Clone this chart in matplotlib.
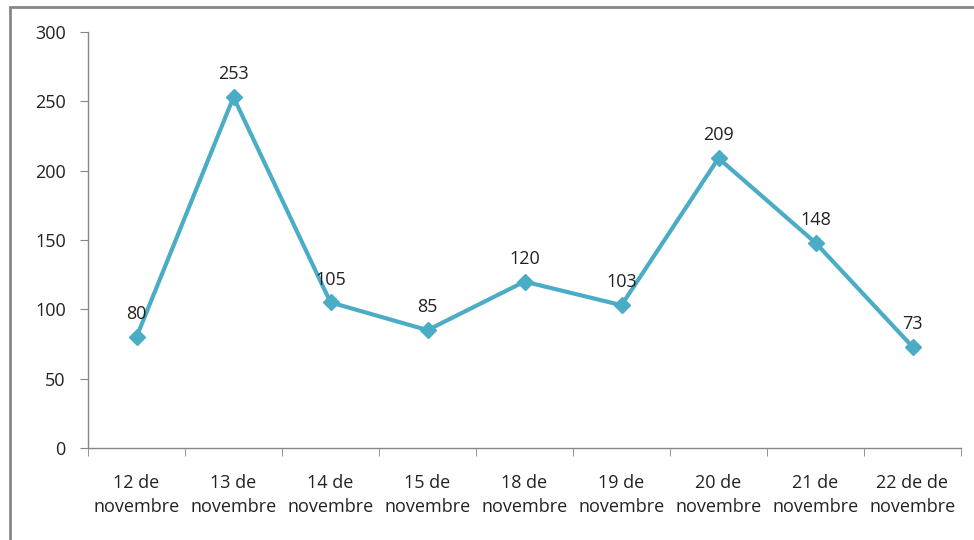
import numpy as np
import matplotlib.pyplot as plt
from matplotlib.patches import Rectangle

# data
dates = ["12 de\nnovembre", "13 de\nnovembre", "14 de\nnovembre", "15 de\nnovembre",
         "18 de\nnovembre", "19 de\nnovembre", "20 de\nnovembre", "21 de\nnovembre",
         "22 de de\nnovembre"]
values = [80, 253, 105, 85, 120, 103, 209, 148, 73]
yticks = [0, 50, 100, 150, 200, 250, 300]

line_color = "#4BACC6"
axis_color = "#868686"

plt.rcParams['font.family'] = ['Open Sans', 'DejaVu Sans']

W, H = 974, 540
fig = plt.figure(figsize=(W / 100, H / 100), dpi=100)

# frame around the chart
fig.patches.append(Rectangle((10 / W, -0.05), 1.0, 1 - 7 / H + 0.05, transform=fig.transFigure,
                             fill=False, edgecolor=axis_color, linewidth=2))

ax = fig.add_axes([88 / W, 1 - 448 / H, (961 - 88) / W, (448 - 32) / H])

x = np.arange(len(values))
ax.plot(x, values, color=line_color, linewidth=3, marker="D", markersize=8,
        markeredgecolor=line_color, markerfacecolor=line_color, zorder=3)

for xi, v in zip(x, values):
    ax.annotate(str(v), (xi, v), xytext=(0, 10), textcoords="offset points",
                ha="center", va="bottom", fontsize=13, color="#222222")

ax.set_xlim(-0.5, len(values) - 0.5)
ax.set_ylim(0, 300)
ax.set_yticks(yticks)
ax.set_xticks(x)
ax.set_xticklabels(dates, fontsize=13, color="#222222", linespacing=1.4)
ax.set_xticks(np.arange(-0.5, len(values), 1), minor=True)
ax.tick_params(axis="x", which="major", length=0, pad=19)
ax.tick_params(axis="x", which="minor", length=6, color=axis_color, direction="out")
ax.tick_params(axis="y", length=6, color=axis_color, labelsize=13, labelcolor="#222222", pad=10)

for s in ["top", "right"]:
    ax.spines[s].set_visible(False)
for s in ["left", "bottom"]:
    ax.spines[s].set_color(axis_color)
    ax.spines[s].set_linewidth(1)

fig.savefig("out.png", dpi=100)
